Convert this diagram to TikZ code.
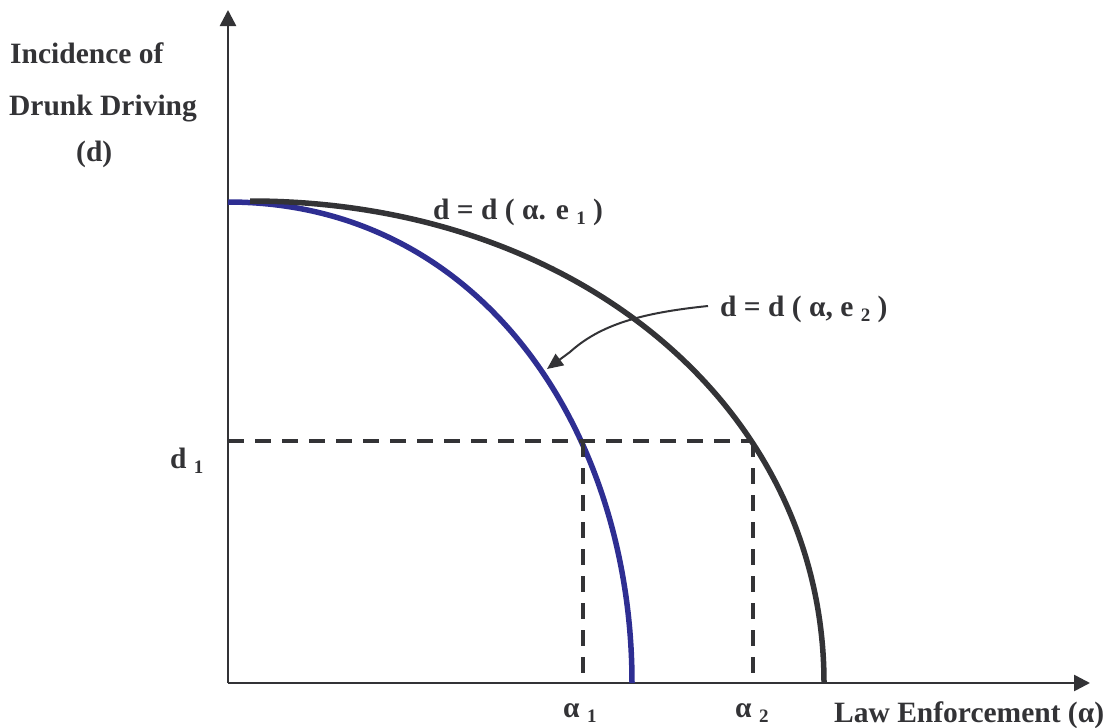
\documentclass[tikz,border=0pt]{standalone}
\usepackage{fontspec}
\setmainfont{Liberation Serif}
\usetikzlibrary{arrows.meta}
\definecolor{ink}{RGB}{51,51,54}
\definecolor{curveblue}{RGB}{46,46,146}
\newcommand{\lowsub}[1]{\raisebox{-0.2em}{\fontsize{19}{19}\selectfont #1}}
\tikzset{
  lbl/.style={font=\fontsize{29.5}{35}\selectfont\bfseries, text=ink, inner sep=0pt, anchor=base west},
  axis/.style={draw=ink, line width=2.6pt, -{Triangle[length=16pt,width=16pt]}},
  guide/.style={draw=ink, line width=3.2pt, dash pattern=on 16pt off 11pt},
  bluecurve/.style={draw=curveblue, line width=5.5pt},
  blackcurve/.style={draw=ink, line width=5.5pt},
  pointer/.style={draw=ink, line width=2pt, -{Triangle[length=16pt,width=14pt]}}
}
\begin{document}
\begin{tikzpicture}[x=1pt,y=-1pt]
\useasboundingbox (0,0) rectangle (1106,728);
% axes
\coordinate (O) at (228,683);
\coordinate (ytip) at (228,10);
\coordinate (xtip) at (1090,683);
\draw[axis] (O) -- (ytip);
\draw[axis] (O) -- (xtip);
% curves
\coordinate (b0) at (228,202);
\coordinate (b1) at (632,683);
\coordinate (k0) at (250,201);
\coordinate (k1) at (824,683);
\draw[bluecurve] (b0) .. controls (480,202) and (632,430) .. (b1);
\draw[blackcurve] (k0) .. controls (577,201) and (824,408) .. (k1);
% dashed guides
\coordinate (d1) at (228,441);
\coordinate (p1) at (583,441);
\coordinate (p2) at (753,441);
\coordinate (q1) at (583,683);
\coordinate (q2) at (753,683);
\draw[guide] (d1) -- (p2);
\draw[guide] (p1) -- (q1);
\draw[guide] (p2) -- (q2);
% labels
\node[lbl] (l1) at (10,63) {Incidence of};
\node[lbl] (l2) at (9,115) {Drunk Driving};
\node[lbl] (l3) at (76,161) {(d)};
\node[lbl] (e1) at (433,219) {d = d ( α. e \lowsub{1} )};
\node[lbl] (e2) at (720,316) {d = d ( α, e \lowsub{2} )};
\node[lbl] (dl) at (170,468) {d \lowsub{1}};
\node[lbl] (a1) at (563,717) {α \lowsub{1}};
\node[lbl] (a2) at (735,717) {α \lowsub{2}};
\node[lbl] (xl) at (834,722) {Law Enforcement (α)};
% pointer
\coordinate (pstart) at (708,306);
\coordinate (ptip) at (547,369);
\draw[pointer] (pstart) .. controls (640,313) and (600,325) .. (570,352) -- (ptip);
\end{tikzpicture}
\end{document}
